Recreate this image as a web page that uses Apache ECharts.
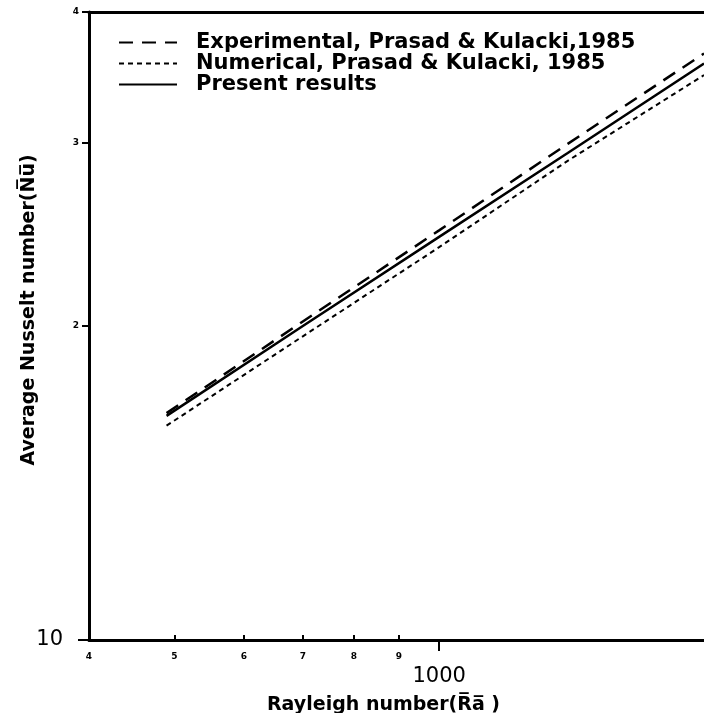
<!DOCTYPE html>
<html>
<head>
<meta charset="utf-8">
<script src="https://cdn.jsdelivr.net/npm/echarts@6/dist/echarts.min.js"></script>
<style>html,body{margin:0;padding:0;background:#fff;}#c{width:704px;height:713px;}</style>
</head>
<body>
<div id="c"></div>
<script>
// Data (Rayleigh number vs average Nusselt number)
const rayleigh = [490, 700, 1000, 1400, 2000];
const experimental = [16.5, 20.2, 24.7, 29.9, 36.5];
const numerical = [16.05, 19.55, 23.8, 28.8, 34.8];
const present = [16.4, 20.0, 24.35, 29.3, 35.7];
const seriesNames = ['Experimental, Prasad & Kulacki,1985', 'Numerical, Prasad & Kulacki, 1985', 'Present results'];
const xSmallTicks = [400, 500, 600, 700, 800, 900];
const xBigTicks = [1000];
const ySmallTicks = [20, 30, 40];
const yBigTicks = [10];

const pairs = ys => rayleigh.map((x, i) => [x, ys[i]]);
const FONT = 'DejaVu Sans';
const black = '#000';

const xBase = {type: 'log', logBase: 10, min: 400, max: 2000, splitLine: {show: false}, gridIndex: 0};
const yBase = {type: 'log', logBase: 10, min: 10, max: 40, splitLine: {show: false}, gridIndex: 0};

const chart = echarts.init(document.getElementById('c'), null, {renderer: 'canvas'});
chart.setOption({
  backgroundColor: '#fff',
  animation: false,
  grid: {left: 89, right: 0, top: 12, bottom: 73, containLabel: false, outerBoundsMode: 'none'},
  legend: {
    orient: 'vertical', left: 113, top: 27,
    itemWidth: 58, itemHeight: 12, itemGap: 0,
    data: seriesNames,
    itemStyle: {opacity: 0},
    textStyle: {fontFamily: FONT, fontSize: 21, fontWeight: 'bold', color: black, lineHeight: 20, padding: [0, 0, 0, 14]}
  },
  xAxis: [
    Object.assign({}, xBase, {
      position: 'bottom',
      axisLine: {show: true, lineStyle: {color: black, width: 3}},
      axisTick: {show: true, inside: true, length: 5, customValues: xSmallTicks, lineStyle: {color: black, width: 2}},
      axisLabel: {show: true, customValues: xSmallTicks, formatter: v => String(Math.round(v / 100)), fontFamily: FONT, fontSize: 9, fontWeight: 'bold', color: black, margin: 12},
    }),
    Object.assign({}, xBase, {
      position: 'bottom',
      axisLine: {show: false},
      axisTick: {show: true, length: 11, customValues: xBigTicks, lineStyle: {color: black, width: 2}},
      axisLabel: {show: true, customValues: xBigTicks, formatter: v => String(Math.round(v)), fontFamily: FONT, fontSize: 21, color: black, margin: 26},
      name: 'Rayleigh number(R\u0305a\u0305 )', nameLocation: 'middle', nameGap: 56,
      nameTextStyle: {fontFamily: FONT, fontSize: 19, fontWeight: 'bold', color: black, padding: [0, 26, 0, 0]}
    }),
    Object.assign({}, xBase, {
      position: 'top',
      axisLine: {show: true, lineStyle: {color: black, width: 3}},
      axisTick: {show: false}, axisLabel: {show: false}
    })
  ],
  yAxis: [
    Object.assign({}, yBase, {
      position: 'left',
      axisLine: {show: true, lineStyle: {color: black, width: 3}},
      axisTick: {show: true, length: 7, customValues: ySmallTicks, lineStyle: {color: black, width: 2}},
      axisLabel: {show: true, customValues: ySmallTicks, formatter: v => String(Math.round(v / 10)), fontFamily: FONT, fontSize: 9, fontWeight: 'bold', color: black, margin: 10},
      name: 'Average Nusselt number(N\u0305u\u0305)', nameLocation: 'middle', nameGap: 50, nameRotate: 90,
      nameTextStyle: {fontFamily: FONT, fontSize: 19, fontWeight: 'bold', color: black, padding: [0, 0, 0, 32]}
    }),
    Object.assign({}, yBase, {
      position: 'left',
      axisLine: {show: false},
      axisTick: {show: true, length: 11, customValues: yBigTicks, lineStyle: {color: black, width: 2}},
      axisLabel: {show: true, customValues: yBigTicks, formatter: v => String(Math.round(v)), fontFamily: FONT, fontSize: 21, color: black, margin: 26}
    })
  ],
  series: [
    {name: seriesNames[0], type: 'line', symbol: 'none', data: pairs(experimental), lineStyle: {color: black, width: 2.5, type: [14, 9]}, itemStyle: {color: black}},
    {name: seriesNames[1], type: 'line', symbol: 'none', data: pairs(numerical), lineStyle: {color: black, width: 2, type: [5, 4]}, itemStyle: {color: black}},
    {name: seriesNames[2], type: 'line', symbol: 'none', data: pairs(present), lineStyle: {color: black, width: 2.5, type: 'solid'}, itemStyle: {color: black}}
  ]
});
</script>
</body>
</html>
